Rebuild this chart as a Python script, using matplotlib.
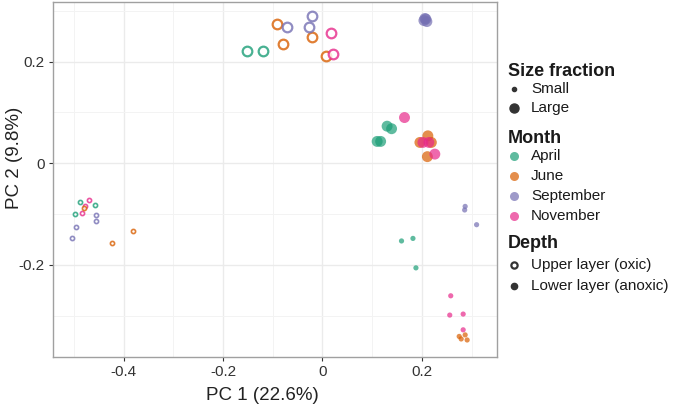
import matplotlib

matplotlib.use("Agg")

import matplotlib.pyplot as plt
from matplotlib.lines import Line2D
from matplotlib.ticker import MultipleLocator

plt.rcParams["font.family"] = ["Liberation Sans", "DejaVu Sans"]

# sample scores
pc1 = [
    # left cluster: small, upper layer
    -0.488, -0.458, -0.498, -0.470, -0.484, -0.478, -0.480,
    -0.456, -0.456, -0.496, -0.504, -0.424, -0.381,
    # top cluster: large, upper layer
    -0.152, -0.119, -0.092, -0.080, -0.021, 0.008,
    -0.071, -0.028, -0.022, 0.018, 0.022,
    # large, lower layer
    0.204, 0.208, 0.210, 0.206,
    0.165, 0.130, 0.139, 0.110, 0.117,
    0.212, 0.196, 0.219, 0.211, 0.202, 0.214, 0.226,
    # small, lower layer
    0.159, 0.182, 0.188, 0.287, 0.286, 0.310,
    0.258, 0.256, 0.283, 0.283, 0.275, 0.279, 0.287, 0.291,
]
pc2 = [
    -0.076, -0.082, -0.100, -0.072, -0.098, -0.084, -0.088,
    -0.102, -0.114, -0.125, -0.147, -0.157, -0.134,
    0.221, 0.221, 0.274, 0.234, 0.249, 0.212,
    0.269, 0.269, 0.289, 0.256, 0.215,
    0.281, 0.284, 0.279, 0.285,
    0.090, 0.073, 0.068, 0.043, 0.043,
    0.054, 0.041, 0.041, 0.013, 0.041, 0.041, 0.018,
    -0.153, -0.148, -0.206, -0.085, -0.092, -0.121,
    -0.261, -0.299, -0.297, -0.328, -0.341, -0.346, -0.338, -0.348,
]
month = [
    "April", "April", "April", "November", "November", "November", "June",
    "September", "September", "September", "September", "June", "June",
    "April", "April", "June", "June", "June", "June",
    "September", "September", "September", "November", "November",
    "September", "September", "September", "September",
    "November", "April", "April", "April", "April",
    "June", "June", "June", "June", "November", "November", "November",
    "April", "April", "April", "September", "September", "September",
    "November", "November", "November", "November", "June", "June", "June", "June",
]
size = ["Small"] * 13 + ["Large"] * 27 + ["Small"] * 14
depth = ["Upper"] * 24 + ["Lower"] * 30

month_names = ["April", "June", "September", "November"]
month_colors = ["#1B9E77", "#D95F02", "#7570B3", "#E7298A"]
color_map = dict(zip(month_names, month_colors))
point_alpha = 0.7

fig = plt.figure(figsize=(6.75, 4.04), dpi=100)
ax = fig.add_axes([0.0785, 0.117, 0.6585, 0.878])

for x, y, m, s, d in zip(pc1, pc2, month, size, depth):
    c = color_map[m]
    if d == "Upper":
        if s == "Large":
            ax.scatter(x, y, s=48, facecolors="white", edgecolors=c, linewidths=1.6, alpha=0.8, zorder=3)
        else:
            ax.scatter(x, y, s=9, facecolors="white", edgecolors=c, linewidths=1.2, alpha=0.8, zorder=3)
    else:
        if s == "Large":
            ax.scatter(x, y, s=62, color=c, edgecolors="none", alpha=point_alpha, zorder=3)
        else:
            ax.scatter(x, y, s=14, color=c, edgecolors="none", alpha=point_alpha, zorder=3)

ax.set_xlim(-0.542, 0.352)
ax.set_ylim(-0.381, 0.3175)
ax.xaxis.set_minor_locator(MultipleLocator(0.1))
ax.yaxis.set_minor_locator(MultipleLocator(0.1))
ax.set_xticks([-0.4, -0.2, 0, 0.2])
ax.set_xticklabels(["-0.4", "-0.2", "0", "0.2"])
ax.set_yticks([-0.2, 0, 0.2])
ax.set_yticklabels(["-0.2", "0", "0.2"])
ax.grid(True, which="major", color="#EBEBEB", linewidth=1.0, zorder=0)
ax.grid(True, which="minor", color="#F3F3F3", linewidth=0.7, zorder=0)
ax.set_axisbelow(True)
ax.tick_params(which="major", length=3, width=0.8, color="#333333", labelsize=11, labelcolor="#333333", pad=3)
ax.tick_params(which="minor", length=0)
for spine in ax.spines.values():
    spine.set_color("#A0A0A0")
    spine.set_linewidth(1.0)

ax.set_xlabel("PC 1 (22.6%)", fontsize=13.5, color="#222222")
ax.set_ylabel("PC 2 (9.8%)", fontsize=13.5, color="#222222")
ax.xaxis.set_label_coords(0.471, -0.085)
ax.yaxis.set_label_coords(-0.068, 0.56)

# legend, drawn by hand
W, H = 675, 404
title_x = 508
marker_x = 514
label_x = 531


def fx(px):
    return px / W


def fy(py):
    return 1 - py / H


def legend_title(text, py):
    fig.text(fx(title_x), fy(py), text, fontsize=13, fontweight="bold", va="center", ha="left", color="#1a1a1a")


def legend_item(text, py, **marker):
    fig.add_artist(Line2D([fx(marker_x)], [fy(py)], transform=fig.transFigure, linestyle="none", marker="o", **marker))
    fig.text(fx(label_x), fy(py), text, fontsize=11, va="center", ha="left", color="#1a1a1a")


legend_title("Size fraction", 71.5)
legend_item("Small", 89.3, markersize=3, color="#333333")
legend_item("Large", 107.7, markersize=6.5, color="#333333")

legend_title("Month", 138.3)
for name, c, py in zip(month_names, month_colors, [156, 175.8, 195.7, 215.7]):
    legend_item(name, py, markersize=6.5, color=c, alpha=point_alpha, markeredgewidth=0)

legend_title("Depth", 243.3)
legend_item("Upper layer (oxic)", 265, markersize=4.5, markerfacecolor="white", markeredgecolor="#333333", markeredgewidth=1.6)
legend_item("Lower layer (anoxic)", 286, markersize=4.5, color="#333333")

fig.savefig("out.png", dpi=100)
